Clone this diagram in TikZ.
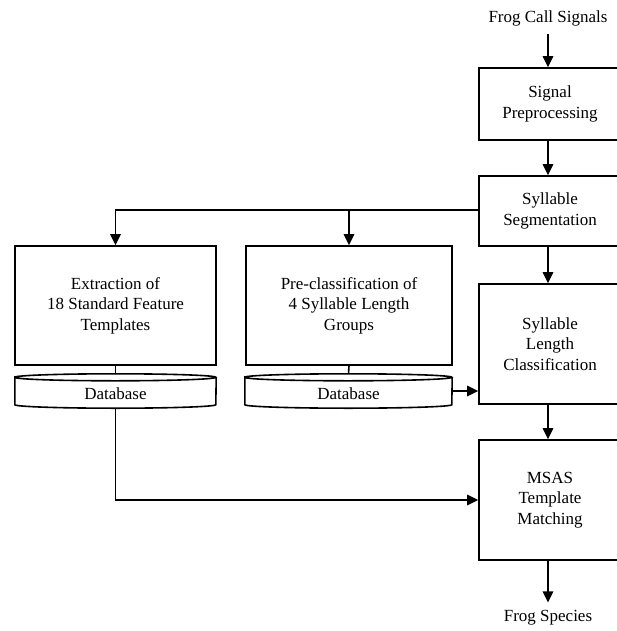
\documentclass[tikz,border=0pt]{standalone}
\usepackage{fontspec}
\setmainfont{Liberation Serif}
\usetikzlibrary{arrows.meta}

\begin{document}
\begin{tikzpicture}[x=1pt, y=-1pt,
  box/.style={draw, line width=1.6pt, align=center, inner sep=0pt,
    minimum width=142pt, font=\fontsize{17}{20.5}\selectfont},
  db/.style={inner sep=0pt, minimum height=34pt, text height=17pt,
    font=\fontsize{17}{20.5}\selectfont},
  lbl/.style={inner xsep=0pt, inner ysep=8pt, font=\fontsize{17}{20.5}\selectfont},
  flow/.style={line width=1.6pt, -{Triangle[length=11pt,width=10.5pt]}},
  link/.style={line width=1.6pt}
]
\useasboundingbox (0,0) rectangle (616,631);

% main column (cut off by the right margin)
\node[lbl] (sig) at (548,18) {Frog Call Signals};
\node[box, minimum height=72pt] (pre) at (550,104) {Signal\\Preprocessing};
\node[box, minimum height=70pt] (seg) at (550,211) {Syllable\\Segmentation};
\node[box, minimum height=120pt] (len) at (550,344) {Syllable\\Length\\Classification};
\node[box, minimum height=120pt] (msas) at (550,500) {MSAS\\Template\\Matching};
\node[lbl] (out) at (548,618) {Frog Species};

% training side
\node[box, minimum width=201pt, minimum height=119pt] (ext) at (115.5,305.5) {Extraction of\\18 Standard Feature\\Templates};
\node[box, minimum width=206pt, minimum height=119pt] (grp) at (349,305.5) {Pre-classification of\\4 Syllable Length\\Groups};
\node[db, minimum width=201pt] (db1) at (115.5,391) {Database};
\node[db, minimum width=207pt] (db2) at (348.5,391) {Database};

% database outlines
\foreach \d/\r in {db1/100.5, db2/103.5} {
  \draw[link] ([yshift=-3.5pt]\d.north west) arc[start angle=180, end angle=-180, x radius=\r pt, y radius=3.5pt]
    -- ([yshift=3.5pt]\d.south west) arc[start angle=180, end angle=360, x radius=\r pt, y radius=3.5pt]
    -- ([yshift=-3.5pt]\d.north east);
}

% connectors
\draw[flow] (sig) -- (sig |- pre.north);
\draw[flow] (pre.south -| sig) -- (sig |- seg.north);
\draw[flow] (seg.south -| sig) -- (sig |- len.north);
\draw[flow] (len.south -| sig) -- (sig |- msas.north);
\draw[flow] (msas.south -| sig) -- (out);
\draw[flow] ([yshift=1pt]seg.west) -| (ext.north);
\draw[flow] ([yshift=1pt]seg.west -| grp.north) -- (grp.north);
\draw[link] (ext.south) -- (db1.north);
\draw[link] (grp.south) -- (db2.north);
\draw[flow] (db2.east) -- (db2.east -| len.west);
\draw[flow] (db1.south) |- (msas.west);
\end{tikzpicture}
\end{document}
